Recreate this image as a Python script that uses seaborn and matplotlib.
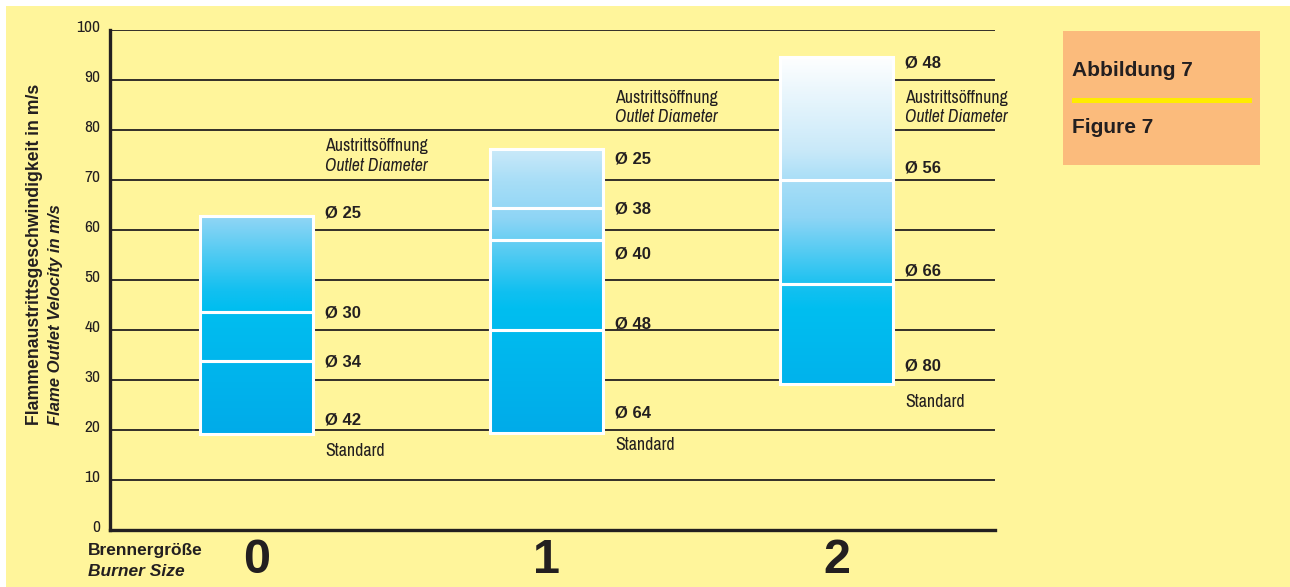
import numpy as np
import matplotlib
matplotlib.use("Agg")
import matplotlib.pyplot as plt
from matplotlib import font_manager
from matplotlib.font_manager import FontProperties
from matplotlib.colors import LinearSegmentedColormap, Normalize
from matplotlib.transforms import ScaledTranslation
from matplotlib.patches import Rectangle
import seaborn as sns

# ---- data -------------------------------------------------------------
burner_sizes = ["0", "1", "2"]
# flame outlet velocity (m/s) for each outlet diameter (mm), top to bottom
diameters_0 = [25, 30, 34, 42]
velocity_0 = [62.8, 43.6, 33.8, 19.3]
diameters_1 = [25, 38, 40, 48, 64]
velocity_1 = [76.2, 64.4, 58.0, 40.0, 19.4]
diameters_2 = [48, 56, 66, 80]
velocity_2 = [94.6, 70.0, 49.3, 29.2]
y_ticks = list(range(0, 101, 10))

# ---- layout of the diameter labels (data units) ------------------------
label_y_0 = [63.5, 43.4, 33.6, 22.0]
label_y_1 = [74.2, 64.2, 55.2, 41.2, 23.4]
label_y_2 = [93.4, 72.4, 51.8, 32.8]
standard_y = [15.8, 17.0, 25.6]
heading_y = [(76.8, 72.8), (86.4, 82.6), (86.4, 82.6)]

W, H = 1290, 587
BG = "#FFF59B"
INK = "#231F20"

sns.set_theme(style="white")
BOLD = "Liberation Sans"
plt.rcParams["font.family"] = [BOLD, "DejaVu Sans"]
plt.rcParams["text.color"] = INK


def _is_narrow(f):
    s = str(f.stretch).lower()
    return ("condensed" in s and "expanded" not in s) or "Narrow" in f.name \
        or "Condensed" in f.name


def _weight(f):
    w = f.weight
    if isinstance(w, str):
        return {"light": 300, "normal": 400, "regular": 400, "book": 400,
                "medium": 500, "semibold": 600, "bold": 700}.get(w.lower(), 400)
    return int(w)


def narrow_font(style, size):
    """Pick an installed narrow face for the light captions, if there is one."""
    picks = [f for f in font_manager.fontManager.ttflist
             if _is_narrow(f) and f.style == style and 300 <= _weight(f) <= 400]
    if picks:
        picks.sort(key=lambda f: (abs(_weight(f) - 350), f.name))
        return FontProperties(fname=picks[0].fname, size=size), True
    return FontProperties(family="Liberation Sans", style=style, size=size * 0.8), False


def fx(px):
    return px / W


def fy(py):
    return 1 - py / H


reg_fp, narrow_ok = narrow_font("normal", 12.8)
ita_fp, _ = narrow_font("italic", 12.8)
tick_fp, _ = narrow_font("normal", 12.5)

fig = plt.figure(figsize=(W / 100, H / 100), dpi=100, facecolor="white")
fig.patches.append(Rectangle((fx(6), 0), 1, fy(6), transform=fig.transFigure,
                             facecolor=BG, edgecolor="none", zorder=-10))

ax = fig.add_axes([fx(110), fy(530), fx(995) - fx(110), fy(30) - fy(530)])
ax.set_facecolor("none")

# colour ramp following the velocity: deep blue at the bottom, white at the top
cmap = LinearSegmentedColormap.from_list("flame", [
    (0.00, "#00ABE9"),
    (0.14, "#00B3EC"),
    (0.33, "#00BEF0"),
    (0.38, "#12C0F0"),
    (0.57, "#8ED5F5"),
    (0.67, "#A8DEF7"),
    (0.75, "#C9E9F9"),
    (1.00, "#FFFFFF"),
])
norm = Normalize(vmin=19, vmax=95)

bar_w = 0.39
bars = [(diameters_0, velocity_0, label_y_0),
        (diameters_1, velocity_1, label_y_1),
        (diameters_2, velocity_2, label_y_2)]

for x, (diams, vel, ly) in enumerate(bars):
    for hi, lo in zip(vel[:-1], vel[1:]):
        grad = np.linspace(hi, lo, 256)[:, None]
        ax.imshow(grad, cmap=cmap, norm=norm, aspect="auto", origin="upper",
                  extent=[x - bar_w / 2, x + bar_w / 2, lo, hi], zorder=2,
                  interpolation="bilinear")
        ax.bar(x, hi - lo, bottom=lo, width=bar_w, facecolor="none",
               edgecolor="white", linewidth=2.2, zorder=3)
    tx = x + bar_w / 2 + 0.042
    for d, yy in zip(diams, ly):
        ax.text(tx, yy, f"Ø {d}", ha="left", va="center", fontsize=12,
                fontweight="bold", color=INK, zorder=4)
    ax.text(tx, standard_y[x], "Standard", ha="left", va="center",
            fontproperties=reg_fp, color=INK, zorder=4)
    h1, h2 = heading_y[x]
    ax.text(tx, h1, "Austrittsöffnung", ha="left", va="center",
            fontproperties=reg_fp, color=INK, zorder=4)
    ax.text(tx, h2, "Outlet Diameter", ha="left", va="center",
            fontproperties=ita_fp, color=INK, zorder=4)

ax.set_xlim(-0.505, 2.547)
ax.set_ylim(0, 100)
ax.set_yticks(y_ticks)
ax.set_xticks(range(len(burner_sizes)), burner_sizes)
ax.grid(axis="y", color=INK, linewidth=1.3)
ax.grid(axis="x", visible=False)
ax.set_axisbelow(True)
for side in ("top", "right"):
    ax.spines[side].set_visible(False)
for side in ("left", "bottom"):
    ax.spines[side].set_color(INK)
    ax.spines[side].set_linewidth(2.4)

ax.tick_params(axis="y", length=0, pad=7, labelcolor=INK)
ax.tick_params(axis="x", length=0, pad=6, labelsize=35, labelcolor=INK)
shift = ScaledTranslation(0, 4 / 100, fig.dpi_scale_trans)
for lbl in ax.get_yticklabels():
    lbl.set_fontproperties(tick_fp)
    lbl.set_transform(lbl.get_transform() + shift)
for lbl in ax.get_xticklabels():
    lbl.set_fontweight("bold")

# axis titles
fig.text(fx(35), fy(425), "Flammenaustrittsgeschwindigkeit in m/s", rotation=90,
         ha="center", va="bottom", fontsize=12.7, fontweight="bold")
fig.text(fx(56), fy(425), "Flame Outlet Velocity in m/s", rotation=90,
         ha="center", va="bottom", fontsize=12, fontweight="bold", style="italic")
fig.text(fx(88), fy(550), "Brennergröße", ha="left", va="center",
         fontsize=12.5, fontweight="bold")
fig.text(fx(88), fy(571), "Burner Size", ha="left", va="center",
         fontsize=12.5, fontweight="bold", style="italic")

# figure caption box
fig.patches.append(Rectangle((fx(1063), fy(165)), fx(1260) - fx(1063), fy(31) - fy(165),
                             transform=fig.transFigure, facecolor="#FBBB7C",
                             edgecolor="none", zorder=-5))
fig.patches.append(Rectangle((fx(1072), fy(102.5)), fx(1252) - fx(1072), fy(97.5) - fy(102.5),
                             transform=fig.transFigure, facecolor="#FFEC00",
                             edgecolor="none", zorder=-4))
fig.text(fx(1072), fy(70), "Abbildung 7", ha="left", va="center",
         fontsize=15, fontweight="bold")
fig.text(fx(1072), fy(127), "Figure 7", ha="left", va="center",
         fontsize=15, fontweight="bold")

fig.savefig("out.png", dpi=100, facecolor=fig.get_facecolor())
